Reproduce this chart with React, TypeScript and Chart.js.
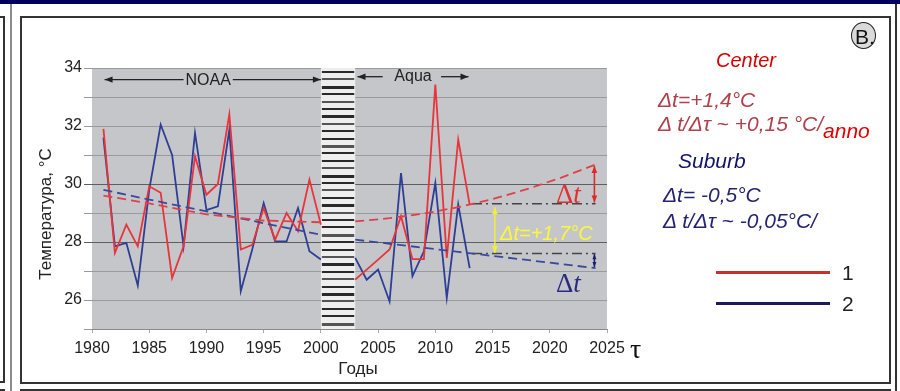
import React, { useEffect, useRef } from 'react';
import { Chart, registerables } from 'chart.js';

Chart.register(...registerables);

// ---- data ----
const noaaYears = [1981, 1982, 1983, 1984, 1985, 1986, 1987, 1988, 1989, 1990, 1991, 1992, 1993, 1994, 1995, 1996, 1997, 1998, 1999, 2000];
const centerNoaa = [31.9, 27.62, 28.6, 27.85, 29.92, 29.7, 26.76, 27.85, 30.95, 29.63, 30.0, 32.4, 27.74, 27.9, 29.17, 28.08, 29.0, 28.37, 30.15, 28.6];
const suburbNoaa = [31.6, 27.85, 27.97, 26.5, 29.8, 32.05, 31.0, 27.85, 31.76, 29.1, 29.23, 31.87, 26.3, 27.74, 29.34, 28.02, 28.02, 29.17, 27.68, 27.4];

const aquaYears = [2003, 2004, 2005, 2006, 2007, 2008, 2009, 2010, 2011, 2012, 2013];
const centerAqua = [26.7, 27.05, 27.39, 27.74, 28.89, 27.41, 27.41, 33.43, 27.45, 31.53, 29.29];
const suburbAqua = [27.45, 26.7, 27.05, 25.95, 30.38, 26.82, 27.68, 30.03, 26.07, 29.29, 27.1];

const trendNoaaYears = [1981, 1985, 1990, 1995, 2000];
const centerTrendNoaa = [29.6, 29.33, 28.95, 28.74, 28.68];
const suburbTrendNoaa = [29.8, 29.46, 29.06, 28.65, 28.25];

const trendAquaYears = [2003, 2006, 2009, 2012, 2015, 2018, 2021, 2024];
const centerTrendAqua = [28.71, 28.82, 28.98, 29.2, 29.48, 29.82, 30.22, 30.67];
const suburbTrendAqua = [28.08, 27.94, 27.8, 27.66, 27.52, 27.38, 27.24, 27.1];

const refYears = [2013.2, 2024];
const centerRef = [29.32, 29.32];
const suburbRef = [27.6, 27.6];

const gapYears = [2000, 2003];
const xTicks = [1980, 1985, 1990, 1995, 2000, 2005, 2010, 2015, 2020, 2025];
const yTicks = [26, 28, 30, 32, 34];

const RED = '#e8343a';
const BLUE = '#2d3e94';
const RED_D = '#e0404a';
const BLUE_D = '#3a4a9a';

const pts = (xs: number[], ys: number[]) => xs.map((x, i) => ({ x, y: ys[i] }));

function arrow(ctx: CanvasRenderingContext2D, x1: number, y1: number, x2: number, y2: number, color: string, w: number, h: number, startHead: boolean, endHead: boolean) {
  ctx.save();
  ctx.strokeStyle = color;
  ctx.fillStyle = color;
  ctx.lineWidth = w;
  ctx.beginPath();
  ctx.moveTo(x1, y1);
  ctx.lineTo(x2, y2);
  ctx.stroke();
  const head = (px: number, py: number, fx: number, fy: number) => {
    const ang = Math.atan2(py - fy, px - fx);
    ctx.beginPath();
    ctx.moveTo(px, py);
    ctx.lineTo(px - h * Math.cos(ang) + (h * 0.4) * Math.sin(ang), py - h * Math.sin(ang) - (h * 0.4) * Math.cos(ang));
    ctx.lineTo(px - h * Math.cos(ang) - (h * 0.4) * Math.sin(ang), py - h * Math.sin(ang) + (h * 0.4) * Math.cos(ang));
    ctx.closePath();
    ctx.fill();
  };
  if (startHead) head(x1, y1, x2, y2);
  if (endHead) head(x2, y2, x1, y1);
  ctx.restore();
}

const decor = {
  id: 'decor',
  beforeDraw(chart: any) {
    const { ctx, chartArea: a } = chart;
    ctx.save();
    ctx.fillStyle = '#c5c6ca';
    ctx.fillRect(a.left, a.top, a.right - a.left, a.bottom - a.top);
    ctx.restore();
  },
  beforeDatasetsDraw(chart: any) {
    const { ctx, chartArea: a } = chart;
    const xs = chart.scales.x;
    const x0 = xs.getPixelForValue(gapYears[0]);
    const x1 = xs.getPixelForValue(gapYears[1]);
    ctx.save();
    ctx.fillStyle = '#eeeeee';
    ctx.fillRect(x0, a.top, x1 - x0, a.bottom - a.top);
    let i = 0;
    for (let y = a.top + 3; y < a.bottom - 1; y += 7.4) {
      ctx.fillStyle = i % 3 === 1 ? '#555' : '#2a2a2a';
      ctx.fillRect(x0 + 1, Math.round(y), x1 - x0 - 2, i % 4 === 2 ? 3 : 2);
      i++;
    }
    ctx.restore();
  },
  afterDatasetsDraw(chart: any) {
    const { ctx } = chart;
    const xs = chart.scales.x;
    const ys = chart.scales.y;
    const X = (v: number) => xs.getPixelForValue(v);
    const Y = (v: number) => ys.getPixelForValue(v);
    ctx.save();
    // NOAA arrows
    arrow(ctx, X(1981.1), Y(33.6), X(1988.0), Y(33.6), '#222', 1.3, 8, true, false);
    arrow(ctx, X(1992.3), Y(33.6), X(2000), Y(33.6), '#222', 1.3, 8, false, true);
    ctx.fillStyle = '#222';
    ctx.font = '16px "Liberation Sans", Arial, sans-serif';
    ctx.textAlign = 'center';
    ctx.textBaseline = 'middle';
    ctx.fillText('NOAA', X(1990.15), Y(33.6) + 1);
    // Aqua arrows
    arrow(ctx, X(2003.2), Y(33.7), X(2005.4), Y(33.7), '#222', 1.3, 8, true, false);
    arrow(ctx, X(2010.5), Y(33.7), X(2012.9), Y(33.7), '#222', 1.3, 8, false, true);
    ctx.fillText('Aqua', X(2008.05), Y(33.7));
    // red delta arrow
    arrow(ctx, X(2023.9), Y(30.62), X(2023.9), Y(29.36), '#e02828', 1.6, 7, true, true);
    // blue delta arrow
    arrow(ctx, X(2023.9), Y(27.58), X(2023.9), Y(27.14), '#1e1e70', 1.6, 5, true, true);
    // yellow arrow
    arrow(ctx, X(2015.2), Y(29.2), X(2015.2), Y(27.62), '#f4f030', 1.4, 7, true, true);
    // delta texts
    ctx.textAlign = 'left';
    ctx.textBaseline = 'alphabetic';
    const drawDelta = (x: number, y: number, color: string) => {
      ctx.fillStyle = color;
      ctx.font = '27px "Liberation Serif", "Times New Roman", serif';
      ctx.fillText('\u0394', x, y);
      const w = ctx.measureText('\u0394').width;
      ctx.font = 'italic 27px "Liberation Serif", "Times New Roman", serif';
      ctx.fillText('t', x + w, y);
    };
    drawDelta(556, 203, '#e03030');
    drawDelta(556, 292, '#2a2a80');
    ctx.fillStyle = '#fbf73a';
    ctx.font = 'italic 20px "Liberation Sans", Arial, sans-serif';
    ctx.fillText('\u0394t=+1,7\u00b0C', 500, 240);
    ctx.restore();
  },
  afterDraw(chart: any) {
    const { ctx } = chart;
    ctx.save();
    ctx.fillStyle = '#222';
    ctx.font = '17px "Liberation Sans", Arial, sans-serif';
    ctx.textAlign = 'center';
    ctx.textBaseline = 'middle';
    ctx.fillText('\u0413\u043e\u0434\u044b', 358, 369);
    ctx.translate(46, 214);
    ctx.rotate(-Math.PI / 2);
    ctx.fillText('\u0422\u0435\u043c\u043f\u0435\u0440\u0430\u0442\u0443\u0440\u0430, \u00b0C', 0, 0);
    ctx.restore();
  },
};

export default function App() {
  const ref = useRef<HTMLCanvasElement | null>(null);

  useEffect(() => {
    document.body.style.margin = '0';
    if (!ref.current) return;
    const line = (label: string, data: any[], color: string, width: number, dash: number[] = []) => ({
      label,
      data,
      borderColor: color,
      backgroundColor: color,
      borderWidth: width,
      borderDash: dash,
      pointRadius: 0,
      fill: false,
      tension: 0,
    });
    const chart = new Chart(ref.current, {
      type: 'line',
      data: {
        datasets: [
          line('Center trend NOAA', pts(trendNoaaYears, centerTrendNoaa), RED_D, 1.8, [9, 5]),
          line('Suburb trend NOAA', pts(trendNoaaYears, suburbTrendNoaa), BLUE_D, 1.8, [9, 5]),
          line('Center trend Aqua', pts(trendAquaYears, centerTrendAqua), RED_D, 1.8, [9, 5]),
          line('Suburb trend Aqua', pts(trendAquaYears, suburbTrendAqua), BLUE_D, 1.8, [9, 5]),
          line('Center ref', pts(refYears, centerRef), '#444', 1.5, [10, 4, 2, 4]),
          line('Suburb ref', pts(refYears, suburbRef), '#444', 1.5, [10, 4, 2, 4]),
          line('1 NOAA', pts(noaaYears, centerNoaa), RED, 1.8),
          line('2 NOAA', pts(noaaYears, suburbNoaa), BLUE, 1.8),
          line('1 Aqua', pts(aquaYears, centerAqua), RED, 1.8),
          line('2 Aqua', pts(aquaYears, suburbAqua), BLUE, 1.8),
        ],
      },
      options: {
        animation: false,
        responsive: false,
        devicePixelRatio: 1,
        layout: { padding: { left: 0, top: 68, right: 293, bottom: 0 } },
        plugins: { legend: { display: false }, tooltip: { enabled: false } },
        scales: {
          x: {
            type: 'linear',
            min: 1980,
            max: 2025,
            afterFit: (s: any) => { s.height = 62; },
            afterBuildTicks: (s: any) => { s.ticks = xTicks.map((v) => ({ value: v })); },
            ticks: {
              color: '#222',
              font: { family: '"Liberation Sans", Arial, sans-serif', size: 16 },
              padding: 6,
              maxRotation: 0,
              callback: (v: any) => String(v),
            },
            grid: { drawOnChartArea: false, tickLength: 4, color: '#aaa' },
            border: { color: '#8a8a8a', width: 1 },
          },
          y: {
            min: 25,
            max: 34,
            afterFit: (s: any) => { s.width = 92; },
            ticks: {
              stepSize: 1,
              color: '#222',
              font: { family: '"Liberation Sans", Arial, sans-serif', size: 16 },
              padding: 2,
              callback: (v: any) => (yTicks.includes(Number(v)) ? String(v) : ''),
            },
            grid: {
              tickLength: 8,
              color: (c: any) => (c.tick && (c.tick.value === 28 || c.tick.value === 30) ? '#5e5e5e' : '#9a9a9e'),
              lineWidth: 1,
            },
            border: { display: false },
          },
        },
      },
      plugins: [decor],
    } as any);
    return () => chart.destroy();
  }, []);

  const sans = '"Liberation Sans", Arial, sans-serif';
  const abs = (left: number, top: number, extra: any = {}) => ({ position: 'absolute' as const, left, top, lineHeight: 1, whiteSpace: 'nowrap' as const, fontFamily: sans, ...extra });

  return (
    <div style={{ position: 'fixed', left: 0, top: 0, width: 900, height: 391, background: '#fff', overflow: 'hidden' }}>
      <canvas ref={ref} width={900} height={391} style={{ position: 'absolute', left: 0, top: 0, width: 900, height: 391 }} />
      {/* frame */}
      <div style={{ position: 'absolute', left: 0, top: 0, width: 900, height: 4, background: '#00005e' }} />
      <div style={{ position: 'absolute', left: 10, top: 4, width: 2, height: 387, background: '#8c8c8c' }} />
      <div style={{ position: 'absolute', left: 0, top: 16, width: 5, height: 367, borderTop: '2px solid #333', borderBottom: '2px solid #333', borderRight: '2px solid #333', boxSizing: 'border-box' }} />
      <div style={{ position: 'absolute', left: 0, top: 389, width: 5, height: 2, background: '#333' }} />
      <div style={{ position: 'absolute', left: 20, top: 16, width: 871, height: 368, border: '2px solid #333', boxSizing: 'border-box' }} />
      <div style={{ position: 'absolute', left: 20, top: 389, width: 871, height: 2, background: '#333' }} />
      <div style={{ position: 'absolute', left: 895, top: 4, width: 2, height: 387, background: '#333' }} />
      {/* B. badge */}
      <div style={{ position: 'absolute', left: 851, top: 22, width: 25, height: 27, borderRadius: '50%', border: '1.5px solid #222', background: '#dadada', boxSizing: 'border-box' }} />
      <div style={abs(855, 26, { fontSize: 21, color: '#111' })}>B.</div>
      {/* annotations */}
      <div style={abs(716, 50, { fontSize: 20, fontStyle: 'italic', color: '#d40000' })}>Center</div>
      <div style={abs(658, 89, { fontSize: 21, fontStyle: 'italic', color: '#b0404a' })}>{'\u0394t=+1,4\u00b0C'}</div>
      <div style={abs(658, 113, { fontSize: 21, fontStyle: 'italic', color: '#b0404a' })}>
        {'\u0394 t/\u0394\u03c4 ~ +0,15 \u00b0C/'}
        <span style={{ position: 'relative', top: 7, color: '#e00000' }}>anno</span>
      </div>
      <div style={abs(678, 150, { fontSize: 21, fontStyle: 'italic', color: '#141466' })}>Suburb</div>
      <div style={abs(663, 184, { fontSize: 21, fontStyle: 'italic', color: '#242470' })}>{'\u0394t= -0,5\u00b0C'}</div>
      <div style={abs(663, 210, { fontSize: 21, fontStyle: 'italic', color: '#242470' })}>{'\u0394 t/\u0394\u03c4 ~ -0,05\u00b0C/'}</div>
      {/* legend */}
      <div style={{ position: 'absolute', left: 716, top: 271, width: 114, height: 3, background: '#c8302c' }} />
      <div style={abs(842, 262, { fontSize: 21, color: '#222' })}>1</div>
      <div style={{ position: 'absolute', left: 716, top: 302, width: 114, height: 3, background: '#1c1c5c' }} />
      <div style={abs(842, 293, { fontSize: 21, color: '#222' })}>2</div>
      <div style={abs(630, 335, { fontSize: 28, color: '#111', fontFamily: '"Liberation Serif", "Times New Roman", serif' })}>{'\u03c4'}</div>
    </div>
  );
}
